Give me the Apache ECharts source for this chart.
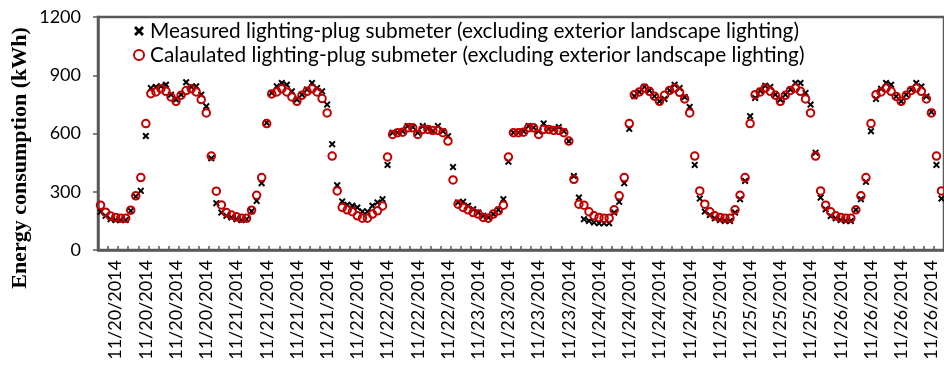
<!DOCTYPE html>
<html>
<head>
<meta charset="utf-8">
<script src="https://cdn.jsdelivr.net/npm/echarts@6/dist/echarts.min.js"></script>
<style>
html,body{margin:0;padding:0;background:#fff;}
#chart{width:944px;height:371px;}
</style>
</head>
<body>
<div id="chart"></div>
<script>
// Days shown on the x axis (hourly readings, 24 per day)
const days = ['11/20/2014','11/21/2014','11/22/2014','11/23/2014','11/24/2014','11/25/2014','11/26/2014'];
const hours = ['00','01','02','03','04','05','06','07','08','09','10','11','12','13','14','15','16','17','18','19','20','21','22','23'];

// Measured lighting-plug submeter (kWh)
const measured = [
  197,176,159,154,154,154,202,275,305,587,834,840,843,851,800,775,800,864,840,843,800,740,472,241,
  193,176,168,159,154,159,200,253,344,655,809,843,860,851,817,775,800,826,860,834,817,749,545,333,
  250,233,228,219,198,198,228,245,262,438,604,604,612,638,633,604,638,626,612,638,612,586,427,245,
  248,228,210,193,176,168,185,207,262,455,604,604,612,638,630,612,652,624,621,633,612,561,381,270,
  159,150,142,138,138,138,193,248,344,624,792,814,840,822,792,766,778,822,851,834,788,737,438,265,
  198,180,163,154,150,150,193,262,356,689,783,820,846,840,800,775,800,826,860,860,809,749,501,270,
  210,175,163,154,150,150,207,262,351,612,778,830,860,851,791,766,800,826,860,842,791,711,438,265
];

// Calculated lighting-plug submeter (kWh)
const calculated = [
  231,195,175,168,164,164,205,279,373,651,805,814,831,817,788,766,797,821,830,814,775,706,484,303,
  232,193,180,171,164,164,205,282,373,651,804,814,831,814,788,766,797,817,830,814,780,706,484,304,
  219,207,197,176,164,164,185,202,227,479,595,604,607,629,629,595,621,621,616,616,604,561,361,236,
  219,207,193,185,168,164,185,202,231,479,604,604,607,629,629,595,621,621,616,616,604,561,364,236,
  231,197,176,168,164,164,207,279,373,651,800,814,834,817,792,766,797,822,834,812,778,706,484,304,
  236,197,176,168,164,164,207,282,373,651,800,814,834,817,797,766,797,822,834,817,778,706,484,304,
  231,197,176,168,164,164,207,279,373,651,800,814,834,817,791,766,797,822,834,817,778,706,484,304
];

const yTicks = [0, 300, 600, 900, 1200];

const categories = [];
days.forEach(d => hours.forEach(h => categories.push(d + ' ' + h + ':00')));

const crossPath = 'path://M0,2L2,0L5,3L8,0L10,2L7,5L10,8L8,10L5,7L2,10L0,8L3,5Z';
const axisColor = '#595959';
const font = 'Lato, "Open Sans", sans-serif';

const chart = echarts.init(document.getElementById('chart'), null, {renderer: 'canvas'});
chart.setOption({
  animation: false,
  backgroundColor: '#ffffff',
  grid: {
    left: 98, right: -7, top: 17, bottom: 121,
    show: true, borderColor: axisColor, borderWidth: 2.5, containLabel: false
  },
  legend: {
    orient: 'vertical',
    left: 133, top: 19,
    padding: 0,
    itemWidth: 10, itemHeight: 10,
    itemGap: 0,
    textStyle: {fontFamily: font, fontSize: 20.8, color: '#000', lineHeight: 24, padding: [0,0,0,1]},
    data: ['Measured lighting-plug submeter (excluding exterior landscape lighting)',
           'Calaulated lighting-plug submeter (excluding exterior landscape lighting)']
  },
  graphic: [{
    type: 'text',
    x: 20, y: 158,
    rotation: Math.PI / 2,
    style: {
      text: 'Energy consumption (kWh)',
      font: 'bold 22px "Liberation Serif", "Times New Roman", serif',
      fill: '#000',
      textAlign: 'center',
      textVerticalAlign: 'middle'
    }
  }],
  xAxis: {
    type: 'category',
    data: categories,
    boundaryGap: true,
    axisLine: {show: true, lineStyle: {color: axisColor, width: 2.5}},
    axisTick: {show: true, inside: true, length: 4, interval: 1, lineStyle: {color: axisColor, width: 1.5}},
    axisLabel: {
      rotate: 90,
      interval: (i) => i % 6 === 3,
      margin: 10,
      fontFamily: font, fontSize: 18, color: '#000',
      formatter: (v) => v.split(' ')[0]
    },
    splitLine: {show: false}
  },
  yAxis: {
    type: 'value',
    min: yTicks[0], max: yTicks[yTicks.length - 1], interval: 300,
    axisLine: {show: true, lineStyle: {color: axisColor, width: 2.5}},
    axisTick: {show: true, inside: false, length: 5, lineStyle: {color: axisColor, width: 1.5}},
    axisLabel: {margin: 17, fontFamily: font, fontSize: 18, color: '#000', formatter: (v) => String(v)},
    splitLine: {show: false}
  },
  series: [
    {
      name: 'Measured lighting-plug submeter (excluding exterior landscape lighting)',
      type: 'scatter',
      data: measured,
      symbol: crossPath,
      symbolSize: 7,
      itemStyle: {color: '#000000', opacity: 1},
      emphasis: {disabled: true}
    },
    {
      name: 'Calaulated lighting-plug submeter (excluding exterior landscape lighting)',
      type: 'scatter',
      data: calculated,
      symbol: 'circle',
      symbolSize: 7.5,
      itemStyle: {color: 'rgba(0,0,0,0)', borderColor: '#C00000', borderWidth: 2, opacity: 1},
      emphasis: {disabled: true}
    }
  ]
});
</script>
</body>
</html>
